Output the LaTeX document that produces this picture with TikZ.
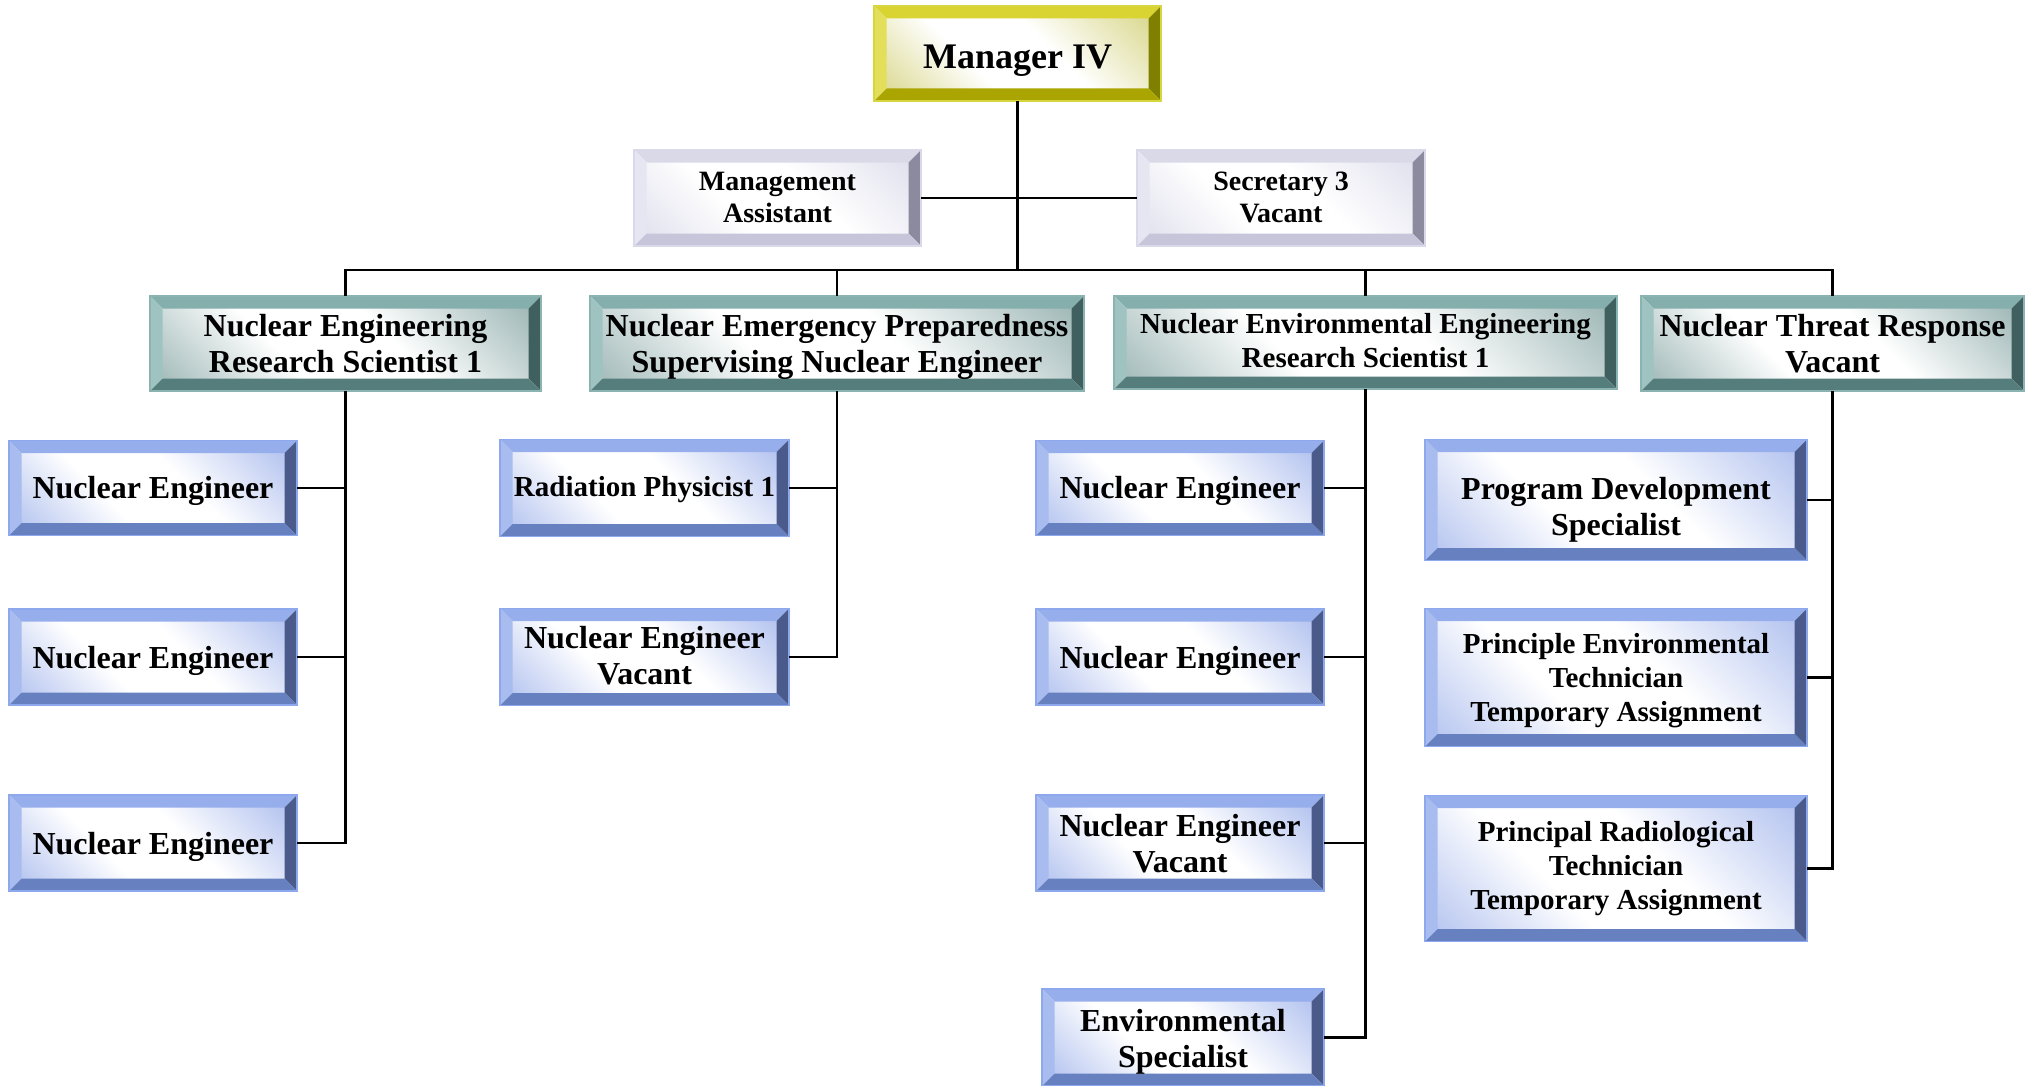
\documentclass[tikz,border=0pt]{standalone}
\usepackage{fontspec}
\setmainfont{Liberation Serif}
\usetikzlibrary{calc}
\definecolor{bluT}{HTML}{97AEEC}\definecolor{bluL}{HTML}{A9BCF0}\definecolor{bluR}{HTML}{4A5A8A}\definecolor{bluB}{HTML}{6680C0}\definecolor{bluTint}{HTML}{8FA6E8}\definecolor{bluO}{HTML}{8DA8EC}
\definecolor{tlT}{HTML}{84AFAD}\definecolor{tlL}{HTML}{9EC3C1}\definecolor{tlR}{HTML}{3F605E}\definecolor{tlB}{HTML}{557D7B}\definecolor{tlTint}{HTML}{6F9593}\definecolor{tlO}{HTML}{8BB3B1}
\definecolor{ylT}{HTML}{D9D432}\definecolor{ylL}{HTML}{E3DF5A}\definecolor{ylR}{HTML}{7F7F00}\definecolor{ylB}{HTML}{AAA500}\definecolor{ylTint}{HTML}{C9C65A}\definecolor{ylO}{HTML}{D8D640}
\definecolor{lvT}{HTML}{D9D9E8}\definecolor{lvL}{HTML}{E6E6F2}\definecolor{lvR}{HTML}{8C8A9E}\definecolor{lvB}{HTML}{C6C5DA}\definecolor{lvTint}{HTML}{D2D2E6}\definecolor{lvO}{HTML}{D9D9E9}
\pgfdeclarehorizontalshading{bluface}{100bp}{color(0bp)=(bluTint); color(38bp)=(white); color(58bp)=(white); color(100bp)=(bluTint)}
\pgfdeclarehorizontalshading{tlface}{100bp}{color(0bp)=(tlTint); color(38bp)=(white); color(58bp)=(white); color(100bp)=(tlTint)}
\pgfdeclarehorizontalshading{ylface}{100bp}{color(0bp)=(ylTint); color(38bp)=(white); color(58bp)=(white); color(100bp)=(ylTint)}
\pgfdeclarehorizontalshading{lvface}{100bp}{color(0bp)=(lvTint); color(38bp)=(white); color(58bp)=(white); color(100bp)=(lvTint)}
\newcommand\bevelbox[5]{%
  \def\bw{6.25pt}%
  \coordinate (BNW) at (path picture bounding box.north west);
  \coordinate (BNE) at (path picture bounding box.north east);
  \coordinate (BSE) at (path picture bounding box.south east);
  \coordinate (BSW) at (path picture bounding box.south west);
  \coordinate (Bnw) at ($(BNW)+(\bw,-\bw)$);
  \coordinate (Bne) at ($(BNE)+(-\bw,-\bw)$);
  \coordinate (Bse) at ($(BSE)+(-\bw,\bw)$);
  \coordinate (Bsw) at ($(BSW)+(\bw,\bw)$);
  \shade[shading=#5, shading angle=45] (Bnw) rectangle (Bse);
  \fill[#1] (BNW) -- (BNE) -- (Bne) -- (Bnw) -- cycle;
  \fill[#2] (BNW) -- (Bnw) -- (Bsw) -- (BSW) -- cycle;
  \fill[#3] (BNE) -- (BSE) -- (Bse) -- (Bne) -- cycle;
  \fill[#4] (BSW) -- (Bsw) -- (Bse) -- (BSE) -- cycle;
}
\newsavebox\txtbox
\newcommand\tx[2][1.5pt]{%
  \sbox\txtbox{\begin{tabular}{@{}c@{}}#2\end{tabular}}%
  \raisebox{-#1}[\ht\txtbox][\dp\txtbox]{\usebox\txtbox}}
\tikzset{
  wh/.style 2 args={minimum width=#1*0.5pt, minimum height=#2*0.5pt},
  boxbase/.style={rectangle, inner sep=0pt, outer sep=0pt, align=center, line width=0.6pt},
  bluebox/.style={boxbase, draw=bluO, path picture={\bevelbox{bluT}{bluL}{bluR}{bluB}{bluface}}},
  tealbox/.style={boxbase, draw=tlO, path picture={\bevelbox{tlT}{tlL}{tlR}{tlB}{tlface}}},
  yelbox/.style={boxbase, draw=ylO, path picture={\bevelbox{ylT}{ylL}{ylR}{ylB}{ylface}}},
  lavbox/.style={boxbase, draw=lvO, path picture={\bevelbox{lvT}{lvL}{lvR}{lvB}{lvface}}},
  fbig/.style={font=\fontsize{18}{21}\selectfont\bfseries},
  fmain/.style={font=\fontsize{16}{18}\selectfont\bfseries},
  fmid/.style={font=\fontsize{14.5}{17}\selectfont\bfseries},
  fsmall/.style={font=\fontsize{14}{16}\selectfont\bfseries},
  conn/.style={draw=black, line width=1.4pt}
}
\begin{document}
\begin{tikzpicture}[x=0.5pt,y=-0.5pt]
\useasboundingbox (0,0) rectangle (2028,1086);
% top
\node[yelbox, fbig, wh={287}{95}] (mgr) at (1017.5,53.5) {\tx[3.2pt]{Manager IV}};
\node[lavbox, fsmall, wh={287}{96}] (ma) at (777.5,198) {\tx[1pt]{Management\\Assistant}};
\node[lavbox, fsmall, wh={288}{96}] (sec) at (1281,198) {\tx[1pt]{Secretary 3\\Vacant}};
% level 2
\node[tealbox, fmain, wh={391}{95}] (t1) at (345.5,343.5) {\tx[2pt]{Nuclear Engineering\\Research Scientist 1}};
\node[tealbox, fmain, wh={494}{95}] (t2) at (837,343.5) {\tx[2pt]{Nuclear Emergency Preparedness\\Supervising Nuclear Engineer}};
\node[tealbox, fmid, wh={503}{93}] (t3) at (1365.5,342.5) {\tx[0.7pt]{Nuclear Environmental Engineering\\Research Scientist 1}};
\node[tealbox, fmain, wh={383}{95}] (t4) at (1832.5,343.5) {\tx[2pt]{Nuclear Threat Response\\Vacant}};
% column 1
\node[bluebox, fmain, wh={288}{95}] (a1) at (153,488) {\tx[1.6pt]{Nuclear Engineer}};
\node[bluebox, fmain, wh={288}{96}] (a2) at (153,657) {\tx[2pt]{Nuclear Engineer}};
\node[bluebox, fmain, wh={288}{96}] (a3) at (153,843) {\tx[2pt]{Nuclear Engineer}};
% column 2
\node[bluebox, fmid, wh={289}{97}] (b1) at (644.5,488) {\tx[0.8pt]{Radiation Physicist 1}};
\node[bluebox, fmain, wh={289}{97}] (b2) at (644.5,657) {\tx[1.2pt]{Nuclear Engineer\\Vacant}};
% column 3
\node[bluebox, fmain, wh={288}{95}] (c1) at (1180,488) {\tx[1.6pt]{Nuclear Engineer}};
\node[bluebox, fmain, wh={288}{96}] (c2) at (1180,657) {\tx[2pt]{Nuclear Engineer}};
\node[bluebox, fmain, wh={288}{96}] (c3) at (1180,843) {\tx[2pt]{Nuclear Engineer\\Vacant}};
\node[bluebox, fmain, wh={282}{97}] (c4) at (1183,1037.5) {\tx[2.4pt]{Environmental\\Specialist}};
% column 4
\node[bluebox, fmain, wh={382}{121}] (d1) at (1616,500) {\tx[5pt]{Program Development\\Specialist}};
\node[bluebox, fmid, wh={382}{138}] (d2) at (1616,677.5) {\tx[1.6pt]{Principle Environmental\\Technician\\Temporary Assignment}};
\node[bluebox, fmid, wh={382}{146}] (d3) at (1616,868.5) {\tx[0.3pt]{Principal Radiological\\Technician\\Temporary Assignment}};
% connectors
\coordinate (bus) at (1017.5,270);
\draw[conn] (mgr.south) -- (bus);
\draw[conn] (ma.east) -- (sec.west);
\draw[conn] (t1.north) |- (bus) -| (t4.north);
\draw[conn] (t2.north) |- (bus);
\draw[conn] (t3.north) |- (bus);
\draw[conn] (t1.south) |- (a3.east);
\draw[conn] (t1.south) |- (a1.east);
\draw[conn] (t1.south) |- (a2.east);
\draw[conn] (t2.south) |- (b2.east);
\draw[conn] (t2.south) |- (b1.east);
\draw[conn] (t3.south) |- (c4.east);
\draw[conn] (t3.south) |- (c1.east);
\draw[conn] (t3.south) |- (c2.east);
\draw[conn] (t3.south) |- (c3.east);
\draw[conn] (t4.south) |- (d3.east);
\draw[conn] (t4.south) |- (d1.east);
\draw[conn] (t4.south) |- (d2.east);
\end{tikzpicture}
\end{document}
